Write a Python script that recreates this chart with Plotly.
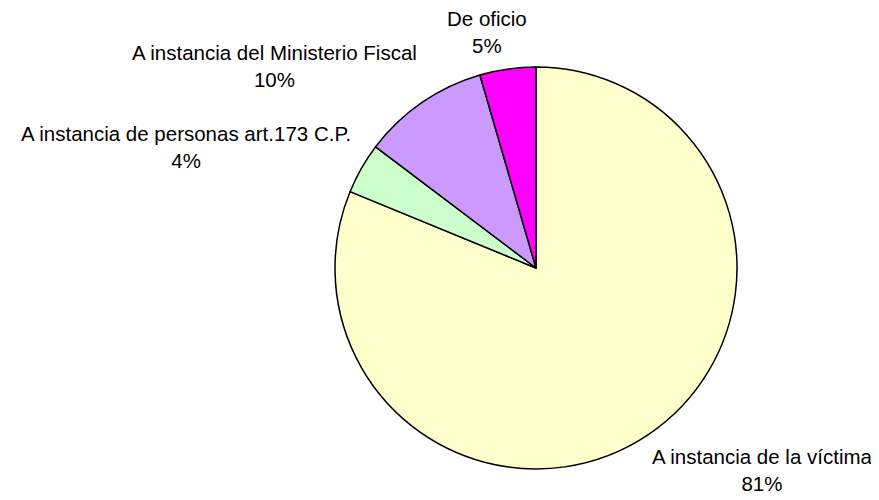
import plotly.graph_objects as go

# Data
labels = [
    "A instancia de la víctima",
    "A instancia de personas art.173 C.P.",
    "A instancia del Ministerio Fiscal",
    "De oficio",
]
values = [81.2, 4.1, 10.2, 4.5]
colors = ["#FFFFCC", "#CCFFCC", "#CC99FF", "#FF00FF"]

# the page body has an 8px margin, so shift everything by it
OFF = 8
W, H = 879, 500


def fx(px):
    return (px - OFF) / W


def fy(py):
    return 1 - (py - OFF) / H


fig = go.Figure(
    go.Pie(
        labels=labels,
        values=values,
        sort=False,
        direction="clockwise",
        rotation=0,
        marker=dict(colors=colors, line=dict(color="black", width=1.5)),
        textinfo="none",
        hoverinfo="label+percent",
        showlegend=False,
        domain=dict(x=[fx(335), fx(737)], y=[fy(469), fy(67)]),
    )
)

# outside labels, placed like the original
label_pos = [(762, 470), (186, 147), (274, 66), (487, 32)]
total = sum(values)
for lab, val, (px, py) in zip(labels, values, label_pos):
    pct = int(val / total * 100 + 0.5)
    fig.add_annotation(
        text=f"{lab}<br>{pct}%",
        x=fx(px),
        y=fy(py),
        xref="paper",
        yref="paper",
        xanchor="center",
        yanchor="middle",
        showarrow=False,
        align="center",
        font=dict(family="Liberation Sans, Arial, sans-serif", size=20.5, color="black"),
    )

fig.update_layout(
    width=W,
    height=H,
    margin=dict(l=0, r=0, t=0, b=0),
    paper_bgcolor="white",
    plot_bgcolor="white",
)

fig.write_html("out.html")
